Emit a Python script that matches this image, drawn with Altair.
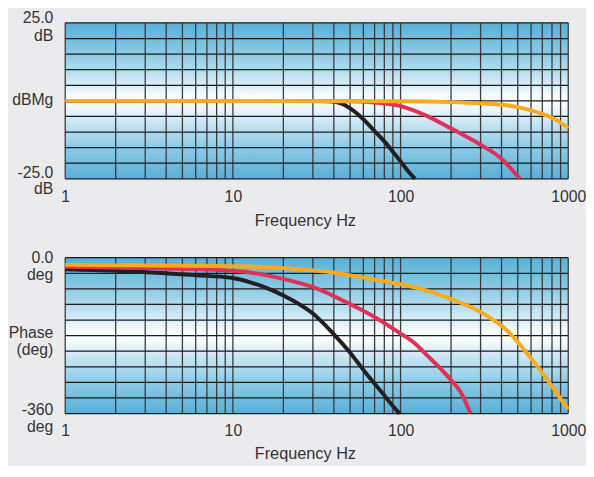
import altair as alt
import pandas as pd

W, H = 510, 158
FONT = "Liberation Sans"
TXT = "#333333"
BG = "#ebebee"

# ---------------- data ----------------
freq_ticks = [1, 10, 100, 1000]
grid_freqs = [1, 2, 3, 4, 5, 6, 7, 8, 9,
              10, 20, 30, 40, 50, 60, 70, 80, 90,
              100, 200, 300, 400, 500, 600, 700, 800, 900, 1000]
mag_grid = [25, 20, 15, 10, 5, 0, -5, -10, -15, -20, -25]
phase_grid = [0, -36, -72, -108, -144, -180, -216, -252, -288, -324, -360]

# y-axis labels: (tick value, text) per line
mag_label_vals = [25, 25, 0, -25, -25]
mag_label_texts = ["25.0", "dB", "dBMg", "-25.0", "dB"]
phase_label_vals = [0, 0, -180, -180, -360, -360]
phase_label_texts = ["0.0", "deg", "Phase", "(deg)", "-360", "deg"]

# magnitude (dB)
black_mag_f = [1, 10, 30, 38, 45, 50, 60, 70, 80, 90, 100, 110, 122]
black_mag_v = [0, 0, 0, -0.1, -1.0, -2.4, -5.9, -9.7, -13.0, -16.3, -19.4, -22.3, -25.0]
red_mag_f = [1, 10, 50, 70, 99, 139, 199, 298, 395, 515]
red_mag_v = [0, 0, -0.1, -0.5, -1.6, -4.5, -8.8, -14.0, -18.3, -25.0]
yellow_mag_f = [1, 100, 200, 300, 430, 500, 585, 700, 770, 870, 1000]
yellow_mag_v = [0, -0.1, -0.4, -0.8, -1.4, -2.0, -2.9, -4.2, -5.0, -6.5, -8.8]

# phase (deg)
black_ph_f = [1, 2, 4, 7, 10, 12.7, 15, 20, 30, 39.4, 49.2, 61.7, 77.3, 96.6, 99]
black_ph_v = [-26.6, -30, -36, -42, -47, -57, -66, -87, -129, -174, -216, -265, -311, -356, -360]
red_ph_f = [1, 4, 8, 12.7, 20, 31.5, 49.2, 70.7, 99, 121, 139, 190, 234, 261]
red_ph_v = [-21, -25, -28, -34, -49, -71, -106, -138, -174, -197, -220, -273, -318, -360]
yellow_ph_f = [1, 8.1, 20, 31.5, 39.4, 61.7, 99, 121, 199, 298, 428, 585, 770, 960, 1000]
yellow_ph_v = [-16.6, -19, -24, -30, -34, -47, -61, -68, -95, -125, -167, -227, -288, -341, -350]

BLACK = "#231f20"
RED = "#e03157"
YELLOW = "#f7ab1d"

# label baseline offsets (px) relative to their tick
MAG_DY = [0, 18, 4.5, -1, 15.5]
PHASE_DY = [5, 23, 2.5, 19.5, 1, 18.5]

GRAD = {
    "gradient": "linear", "x1": 0, "y1": 0, "x2": 0, "y2": 1,
    "stops": [
        {"offset": 0.0, "color": "#58b0d7"},
        {"offset": 0.2, "color": "#8ccae5"},
        {"offset": 0.36, "color": "#c8e6f3"},
        {"offset": 0.46, "color": "#f3f9fd"},
        {"offset": 0.5, "color": "#ffffff"},
        {"offset": 0.54, "color": "#f3f9fd"},
        {"offset": 0.64, "color": "#c8e6f3"},
        {"offset": 0.8, "color": "#8ccae5"},
        {"offset": 1.0, "color": "#58b0d7"},
    ],
}


def panel(series, ygrid, ydomain, label_vals, label_texts, label_dys,
          label_pad, title_pad):
    xs = alt.Scale(type="log", domain=[1, 1000], nice=False)
    ys = alt.Scale(domain=ydomain, nice=False, zero=False)
    xaxis = alt.Axis(values=freq_ticks, format="d", title="Frequency Hz",
                     grid=False, ticks=False, domain=False, labelFlush=False,
                     labelOverlap=False, labelPadding=label_pad, labelFontSize=16,
                     labelFont=FONT, labelColor=TXT, titleFont=FONT,
                     titleFontSize=16.5, titleFontWeight="normal", titleColor=TXT,
                     titlePadding=title_pad, titleX=243)
    xenc = alt.X("f:Q", scale=xs, axis=xaxis, title="Frequency Hz")

    bg = alt.Chart(alt.Data(values=[{}])).mark_rect(fill=GRAD).encode(
        x=alt.value(0), x2=alt.value(W), y=alt.value(0), y2=alt.value(H))
    vgrid = alt.Chart(pd.DataFrame({"f": grid_freqs})).mark_rule(
        color="#3a3a3a", strokeWidth=1.3).encode(x=xenc)
    hgrid = alt.Chart(pd.DataFrame({"v": ygrid})).mark_rule(
        color="#1a1a1a", strokeWidth=1.3).encode(
        y=alt.Y("v:Q", scale=ys, axis=None))
    layers = [bg, vgrid, hgrid]
    for fs, vs, col in series:
        df = pd.DataFrame({"f": fs, "v": vs})
        layers.append(alt.Chart(df).mark_line(
            color=col, strokeWidth=4, interpolate="monotone").encode(
            x=xenc, y=alt.Y("v:Q", scale=ys, axis=None)))
    for val, txt, dy in zip(label_vals, label_texts, label_dys):
        df = pd.DataFrame({"v": [val], "t": [txt]})
        layers.append(alt.Chart(df).mark_text(
            align="right", baseline="alphabetic", dy=dy, fontSize=16,
            font=FONT, color=TXT).encode(
            x=alt.value(-12), y=alt.Y("v:Q", scale=ys, axis=None),
            text="t:N"))
    return alt.layer(*layers).properties(width=W, height=H)


top = panel(
    [(black_mag_f, black_mag_v, BLACK), (red_mag_f, red_mag_v, RED),
     (yellow_mag_f, yellow_mag_v, YELLOW)],
    mag_grid, [-25, 25], mag_label_vals, mag_label_texts, MAG_DY, 10, 8)
bottom = panel(
    [(black_ph_f, black_ph_v, BLACK), (red_ph_f, red_ph_v, RED),
     (yellow_ph_f, yellow_ph_v, YELLOW)],
    phase_grid, [-360, 0], phase_label_vals, phase_label_texts, PHASE_DY, 9, 8)

chart = alt.vconcat(top, bottom, spacing=80, bounds="flush", background=BG,
                    padding={"left": 0, "top": -1, "right": 0, "bottom": 0}
                    ).configure_view(stroke=None)

chart.save("out.html", embed_options={"renderer": "svg", "actions": False})
